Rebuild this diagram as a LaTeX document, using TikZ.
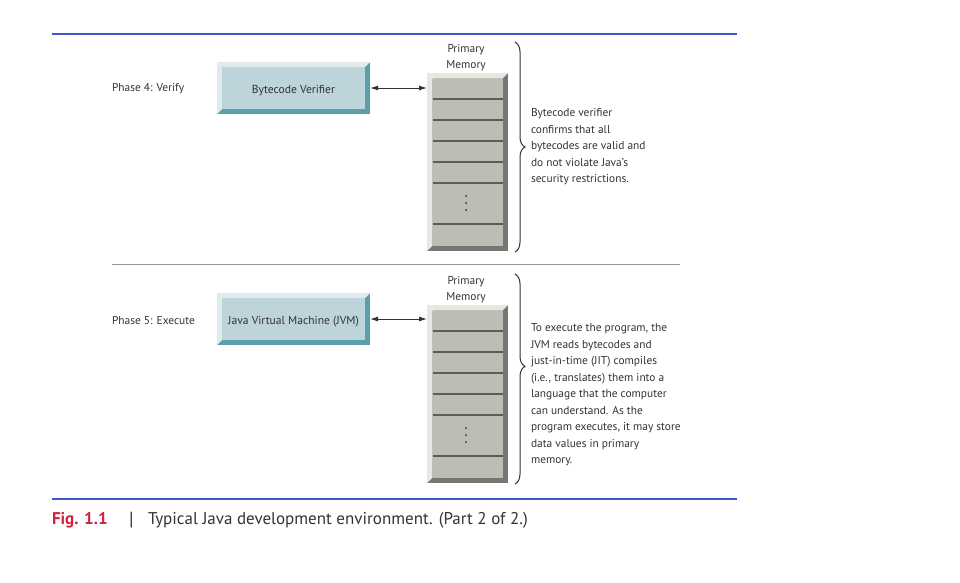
\documentclass[tikz,border=0pt]{standalone}
\usepackage{fontspec}
\setmainfont{PT Sans}
\usetikzlibrary{calc,arrows.meta,decorations.pathreplacing,backgrounds}
\definecolor{bluerule}{HTML}{3A5AC8}
\definecolor{figred}{HTML}{D4203C}
\definecolor{boxface}{HTML}{BDD4DA}
\definecolor{boxlight}{HTML}{E0EBEE}
\definecolor{boxdark}{HTML}{5C9EA9}
\definecolor{memface}{HTML}{BDBDB5}
\definecolor{memlight}{HTML}{E8E8E2}
\definecolor{memdark}{HTML}{76766F}
\definecolor{slotline}{HTML}{5E5E58}
\definecolor{txt}{HTML}{333333}
\newcommand\bevelbox[5]{% name, light, dark, face, bevel
  \fill[#3] (#1.north west) rectangle (#1.south east);
  \fill[#2] (#1.north west) -- (#1.north east) -- ($(#1.north east)+(-#5,#5)$)
    -- ($(#1.north west)+(#5,#5)$) -- ($(#1.south west)+(#5,-#5)$) -- (#1.south west) -- cycle;
  \fill[#4] ($(#1.north west)+(#5,#5)$) rectangle ($(#1.south east)+(-#5,-#5)$);
}
\begin{document}
\begin{tikzpicture}[x=1pt,y=-1pt,
  every node/.style={inner sep=0pt,outer sep=0pt,text=txt},
  proc/.style={minimum width=153pt,minimum height=52pt,text height=13pt,text depth=2.5pt,font=\fontsize{11.6}{14}\selectfont},
  mem/.style={minimum width=81pt,minimum height=178pt},
  lbl/.style={font=\fontsize{11.4}{16.5}\selectfont,align=left,anchor=west},
  memlbl/.style={font=\fontsize{11.4}{16}\selectfont,align=center},
  conn/.style={draw=txt,line width=0.9pt,{Latex[length=8pt,width=5pt]}-{Latex[length=8pt,width=5pt]}},
  bracestyle/.style={draw=txt,line width=1pt,decorate},
  slot/.style={draw=slotline,line width=1.1pt}]
\useasboundingbox (0,0) rectangle (960,582);

% rules
\coordinate (r1a) at (52,34); \coordinate (r1b) at (737,34);
\coordinate (r2a) at (112,264); \coordinate (r2b) at (680,264);
\coordinate (r3a) at (52,499); \coordinate (r3b) at (737,499);
\draw[bluerule,line width=1.3pt] (r1a) -- (r1b);
\draw[black!40,line width=0.8pt] (r2a) -- (r2b);
\draw[bluerule,line width=1.3pt] (r3a) -- (r3b);

% ---------- Phase 4
\node[lbl,font=\fontsize{11.4}{14}\selectfont] (p4) at (112,88.5) {Phase 4: Verify};
\node[proc] (bv) at (293.5,88) {Bytecode Verifier};
\node[mem] (m4) at (467.5,162) {};
\node[memlbl] (m4l) at (466,58) {Primary\\Memory};
\begin{scope}[on background layer]
  \bevelbox{bv}{boxlight}{boxdark}{boxface}{5}
  \bevelbox{m4}{memlight}{memdark}{memface}{5.5}
\end{scope}
\foreach \dy in {26,47,68,89,110,151}
  \draw[slot] ($(m4.north west)+(5.5,\dy)$) -- ($(m4.north east)+(-5.5,\dy)$);
\foreach \dy in {123,130,137}
  \fill[txt] ($(m4.north west)+(39,\dy)$) circle (1pt);
\draw[conn] (bv.east) -- (m4.west |- bv.east);
\draw[bracestyle,decoration={brace,amplitude=10pt,aspect=0.5}] (515,42) -- (515,252);
\node[lbl] (t4) at (531,147) {Bytecode verifier\\confirms that all\\bytecodes are valid and\\do not violate Java’s\\security restrictions.};

% ---------- Phase 5
\node[lbl,font=\fontsize{11.4}{14}\selectfont] (p5) at (112,320.5) {Phase 5: Execute};
\node[proc] (jvm) at (293.5,319) {Java Virtual Machine (JVM)};
\node[mem] (m5) at (467.5,394) {};
\node[memlbl] (m5l) at (466,290) {Primary\\Memory};
\begin{scope}[on background layer]
  \bevelbox{jvm}{boxlight}{boxdark}{boxface}{5}
  \bevelbox{m5}{memlight}{memdark}{memface}{5.5}
\end{scope}
\foreach \dy in {26,47,68,89,110,151}
  \draw[slot] ($(m5.north west)+(5.5,\dy)$) -- ($(m5.north east)+(-5.5,\dy)$);
\foreach \dy in {123,130,137}
  \fill[txt] ($(m5.north west)+(39,\dy)$) circle (1pt);
\draw[conn] (jvm.east) -- (m5.west |- jvm.east);
\draw[bracestyle,decoration={brace,amplitude=10pt,aspect=0.44}] (515,274) -- (515,484);
\node[lbl] (t5) at (531,395) {To execute the program, the\\JVM reads bytecodes and\\just-in-time (JIT) compiles\\(i.e., translates) them into a\\language that the computer\\can understand. As the\\program executes, it may store\\data values in primary\\memory.};

% ---------- caption
\node[anchor=west,font=\fontsize{17}{20}\bfseries\selectfont,text=figred] (fig) at (52,520) {Fig. 1.1};
\node[anchor=west,font=\fontsize{19}{22}\selectfont] (bar) at (129,520) {|};
\node[anchor=west,font=\fontsize{17}{20}\selectfont] (cap) at (148,520) {Typical Java development environment. (Part 2 of 2.)};
\end{tikzpicture}
\end{document}
